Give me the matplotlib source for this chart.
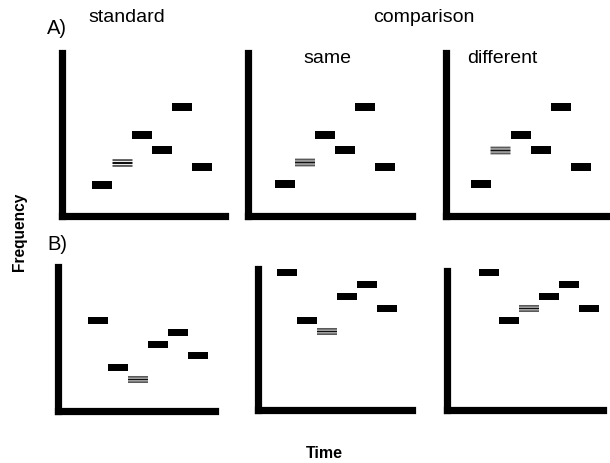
import numpy as np
import matplotlib
matplotlib.use("Agg")
import matplotlib.pyplot as plt

plt.rcParams['font.family'] = ['Liberation Sans', 'DejaVu Sans']

# tone sequences: onset time slot and frequency (arbitrary units)
times = np.array([1, 2, 3, 4, 5, 6])

a_standard = [3.15, 5.3, 8.1, 6.6, 10.9, 4.9]
a_same = [3.2, 5.35, 8.15, 6.65, 10.95, 4.95]
a_different = [3.2, 6.55, 8.15, 6.65, 10.95, 4.95]
a_target = 1  # index of the marked (striped) tone

b_standard = [9.0, 4.3, 3.1, 6.6, 7.8, 5.5]
b_same = [13.7, 8.9, 7.8, 11.3, 12.5, 10.1]
b_different = [13.75, 8.95, 10.15, 11.35, 12.55, 10.15]
b_target = 2

W, H = 610, 463
fig = plt.figure(figsize=(W / 100, H / 100), dpi=100)


def px_axes(x_axis, y_bottom, y_top, x_right, first_px):
    ax = fig.add_axes([x_axis / W, 1 - y_bottom / H,
                       (x_right - x_axis) / W, (y_bottom - y_top) / H])
    x0 = 1 - first_px / 20.0
    ax.set_xlim(x0, x0 + (x_right - x_axis) / 20.0)
    ax.set_ylim(0, (y_bottom - y_top) / 10.0)
    for side in ['top', 'right']:
        ax.spines[side].set_visible(False)
    for side in ['left', 'bottom']:
        ax.spines[side].set_linewidth(5.2)
        ax.spines[side].set_capstyle('projecting')
    ax.set_xticks([])
    ax.set_yticks([])
    ax.patch.set_alpha(0)
    return ax


def draw_tones(ax, freqs, target, h):
    freqs = np.asarray(freqs)
    keep = np.arange(len(freqs)) != target
    ax.barh(freqs[keep], 1.0, left=times[keep] - 0.5, height=h,
            color='black', clip_on=False)
    # the marked tone is drawn as a striped bar
    t, f = times[target], freqs[target]
    offs = np.array([-0.29, 0.0, 0.29]) * h / 0.8
    ax.barh(f + offs, 1.0, left=t - 0.5, height=0.2 * h / 0.8,
            color=['#5a5a5a', '#111111', '#5a5a5a'], clip_on=False,
            snap=False)


ax = px_axes(61.5, 216, 53, 225, 41)
draw_tones(ax, a_standard, a_target, 0.8)
ax = px_axes(248, 216, 53, 412, 37)
draw_tones(ax, a_same, a_target, 0.8)
ax = px_axes(445.5, 216, 53, 607, 35)
draw_tones(ax, a_different, a_target, 0.8)

ax = px_axes(58, 410.5, 267, 215, 40)
draw_tones(ax, b_standard, b_target, 0.72)
ax = px_axes(257.5, 409.5, 269, 412, 29.5)
draw_tones(ax, b_same, b_target, 0.72)
ax = px_axes(446.5, 410, 271, 603, 42.5)
draw_tones(ax, b_different, b_target, 0.72)


def ftext(x, y, s, **kw):
    fig.text(x / W, 1 - y / H, s, **kw)


ftext(127, 17, 'standard', fontsize=14, ha='center', va='center')
ftext(424, 17, 'comparison', fontsize=14, ha='center', va='center')
ftext(47, 29, 'A)', fontsize=14.5, ha='left', va='center')
ftext(47, 244, 'B)', fontsize=14.5, ha='left', va='center')
ftext(327, 63, 'same', fontsize=14, ha='center', va='baseline')
ftext(502, 63, 'different', fontsize=14, ha='center', va='baseline')
ftext(20, 232, 'Frequency', fontsize=11.2, fontweight='bold',
      rotation=90, ha='center', va='center')
ftext(324, 454, 'Time', fontsize=11.5, fontweight='bold',
      ha='center', va='center')

fig.savefig('out.png', dpi=100)
